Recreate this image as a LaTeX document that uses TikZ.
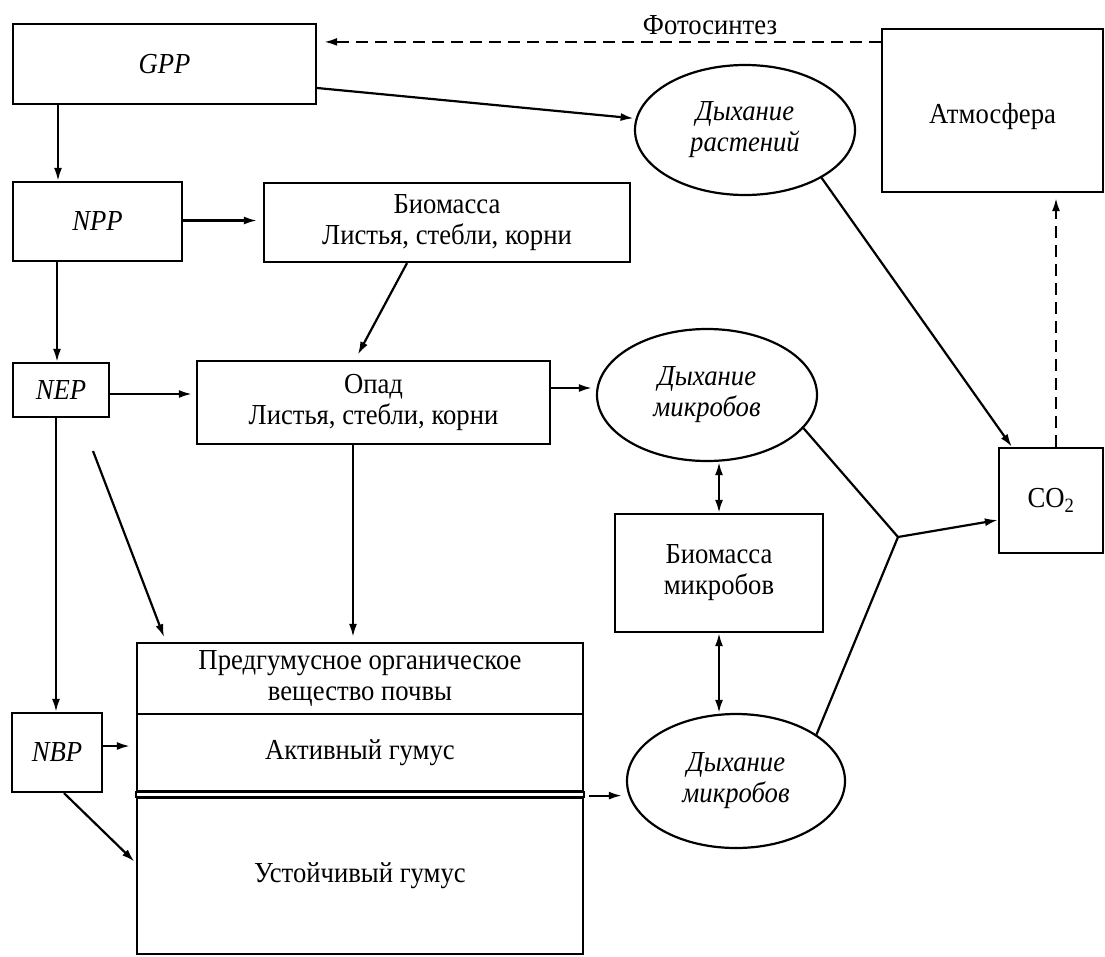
\documentclass[tikz,border=0pt]{standalone}
\usepackage{fontspec}
\setmainfont{Liberation Serif}[FakeStretch=0.92]
\usetikzlibrary{arrows.meta,shapes.geometric,calc}
\newcommand\mytextsize{\fontsize{29}{31}\selectfont}
\begin{document}
\begin{tikzpicture}[x=1pt,y=-1pt,
  box/.style={draw,line width=2.2pt,rectangle,inner sep=0pt,align=center,font=\mytextsize},
  ell/.style={draw,line width=2.2pt,ellipse,inner sep=0pt,align=center,font=\mytextsize\itshape},
  ln/.style={line width=2.2pt},
  arr/.style={line width=2.2pt,-{Latex[length=13pt,width=8pt]}},
  dbl/.style={line width=2.2pt,{Latex[length=13pt,width=8pt]}-{Latex[length=13pt,width=8pt]}},
  dsh/.style={dash pattern=on 12pt off 7pt}]
\useasboundingbox[fill=white] (0,0) rectangle (1105,956);
% boxes
\node[box,minimum width=303pt,minimum height=80pt] (gpp) at (164.5,64) {\itshape GPP};
\node[box,minimum width=169pt,minimum height=79pt] (npp) at (97.5,221.5) {\itshape NPP};
\node[box,minimum width=366pt,minimum height=79pt] (bio) at (447,222.5) {Биомасса\\Листья, стебли, корни};
\node[box,minimum width=96pt,minimum height=54pt] (nep) at (61,390) {\itshape NEP};
\node[box,minimum width=353pt,minimum height=83pt] (opad) at (373.5,402.5) {Опад\\Листья, стебли, корни};
\node[box,minimum width=221pt,minimum height=163pt] (atm) at (992.5,110.5) {\raisebox{-13pt}[0pt][0pt]{Атмосфера}};
\node[box,minimum width=104pt,minimum height=105pt] (co2) at (1051,500.5) {CO\textsubscript{2}};
\node[box,minimum width=208pt,minimum height=118pt] (bmic) at (719,573) {Биомасса\\микробов};
\node[box,minimum width=90pt,minimum height=79pt] (nbp) at (57,752.5) {\itshape NBP};
\node[box,minimum width=446pt,minimum height=71pt] (pre) at (360,678.5) {Предгумусное органическое\\вещество почвы};
\node[box,minimum width=446pt,minimum height=77pt] (act) at (360,752.5) {Активный гумус};
\node[box,minimum width=446pt,minimum height=156pt] (stab) at (360,876) {Устойчивый гумус};
\draw[ln] (act.south west) rectangle (stab.north east);
% ellipses
\node[ell,minimum width=220pt,minimum height=130pt] (er) at (745,130) {Дыхание\\растений};
\node[ell,minimum width=220pt,minimum height=132pt] (em1) at (707,395) {Дыхание\\микробов};
\node[ell,minimum width=218pt,minimum height=134pt] (em2) at (736,781) {Дыхание\\микробов};
% label
\node[font=\mytextsize] (ph) at (710,25) {Фотосинтез};
% helper coordinates
\coordinate (phA) at ([yshift=-14pt]atm.north west);
\coordinate (g1) at ([yshift=-24pt]gpp.east);
\coordinate (n1) at ([xshift=-39.5pt]npp.north);
\coordinate (n2) at ([xshift=-4pt]nep.north);
\coordinate (n3) at ([xshift=-1pt]nbp.north);
\coordinate (e1) at ([yshift=-4pt]nep.east);
\coordinate (o1) at ([yshift=14.5pt]opad.east);
\coordinate (o2) at ([xshift=-20.5pt]opad.south);
\coordinate (nd) at (93,451);
\coordinate (b1) at ([yshift=6.5pt]nbp.east);
\coordinate (a1) at ([shift={(5pt,-3.5pt)}]act.south east);
\coordinate (c1) at ([xshift=5pt]co2.north);
\coordinate (J) at (898,537);
% connectors
\draw[arr,dsh,shorten >=7pt] (phA) -- (phA -| gpp.east);
\draw[arr,shorten >=2pt] (g1) -- (er.174);
\draw[arr] (gpp.south -| n1) -- (n1);
\draw[arr,shorten >=6pt] ([yshift=1pt]npp.east) -- ([yshift=1pt]npp.east -| bio.west);
\draw[arr,shorten >=6pt] ([xshift=-40pt]bio.south) -- ([xshift=-18.5pt]opad.north);
\draw[arr] (npp.south -| n2) -- (n2);
\draw[arr,shorten >=4pt] (e1) -- (e1 -| opad.west);
\draw[arr,shorten >=4pt] (o1) -- (o1 -| em1.west);
\draw[arr,shorten >=5pt] (o2) -- (o2 |- pre.north);
\draw[arr,shorten >=5pt] (nd) -- ([xshift=30pt]pre.north west);
\draw[arr] (nep.south -| n3) -- (n3);
\draw[arr,shorten >=6pt] (b1) -- (b1 -| act.west);
\draw[arr,shorten >=2pt] ([xshift=7pt]nbp.south) -- ([yshift=13pt]stab.west);
\draw[arr,shorten >=4pt] (a1) -- (a1 -| em2.west);
\draw[dbl] (em1.south -| bmic.north) -- (bmic.north);
\draw[dbl] (bmic.south) -- (bmic.south |- em2.north);
\draw[ln] (em1.-19) -- (J);
\draw[ln] (em2.30) -- (J);
\draw[arr] (J) -- ([yshift=-19.5pt]co2.west);
\draw[arr] (er.-32) -- ([xshift=14pt]co2.north west);
\draw[arr,dsh,shorten >=5pt] (c1) -- (c1 |- atm.south);
\end{tikzpicture}
\end{document}
